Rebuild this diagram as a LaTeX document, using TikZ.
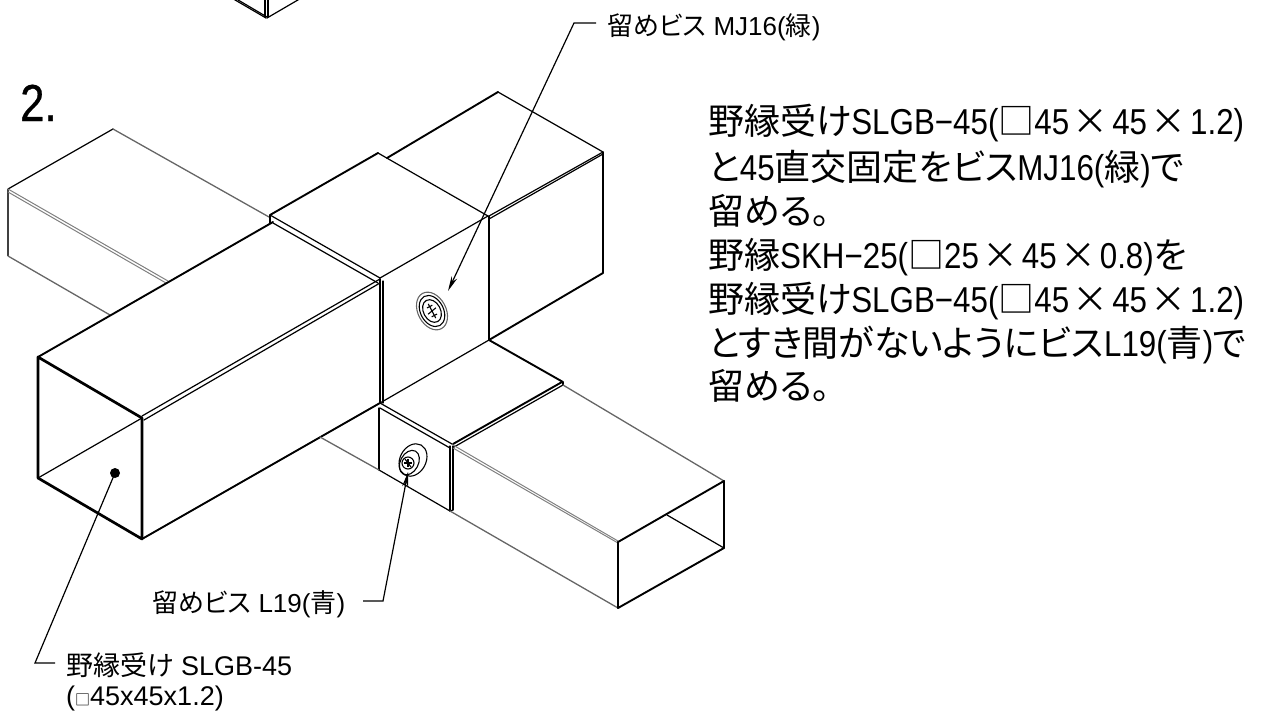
\documentclass[tikz,border=0pt]{standalone}
\usepackage{fontspec}
\setmainfont{Liberation Sans}
\newfontfamily\jp[RawFeature=+palt]{Noto Sans CJK JP}
\newfontfamily\narrowlat[FakeStretch=0.87]{Liberation Sans}
\newfontfamily\stepfont[FakeStretch=0.84,FakeBold=0.6]{Liberation Sans}
\usetikzlibrary{arrows.meta}
\newcommand{\J}[1]{{\jp #1}}
\newcommand{\X}{\hspace{3.5pt}{\jp ×}\hspace{3.5pt}}
\tikzset{
  thinl/.style={draw=black,line width=1.2pt,line cap=round,line join=round},
  midl/.style={draw=black,line width=1.9pt,line cap=round,line join=round},
  thickl/.style={draw=black,line width=2.7pt,line cap=round,line join=round},
  grayl/.style={draw=black!60,line width=1.3pt,line cap=round},
  lgrayl/.style={draw=black!50,line width=1pt,line cap=round},
  leader/.style={draw=black,line width=1.2pt,line join=miter},
  tipl/.style={leader,-{Stealth[length=15pt,width=6pt]}},
  small/.style={inner sep=0pt,anchor=base west,font=\fontsize{26}{28}\selectfont,text=black},
  smallb/.style={inner sep=0pt,anchor=base west,font=\fontsize{27}{28}\selectfont,text=black},
  big/.style={inner sep=0pt,anchor=base west,font=\narrowlat\fontsize{36}{40}\selectfont,text=black},
  screwl/.style={draw=black,line width=1.1pt,fill=none}
}
\begin{document}
\begin{tikzpicture}[x=1pt,y=-1pt]
\useasboundingbox (0,0) rectangle (1267,713);
% top fragment
\draw[thinl] (233,-3) -- (267,17);
\draw[thinl] (230,-3) -- (266,18);
\draw[thinl] (265,-3) -- (265,17);
\draw[thinl] (268,-3) -- (268,17);
\draw[thinl] (267,18) -- (303,-3);
% left stub
\draw[thinl] (8,189) -- (113,129);
\draw[grayl] (113,129) -- (269,217);
\draw[draw=black!75,line width=1.2pt] (8,189) -- (8,256);
\draw[grayl] (8,256) -- (110,315);
\draw[lgrayl] (8,189) -- (168,281);
\draw[lgrayl] (8,192) -- (166,283);
% back box
\draw[midl] (387,158) -- (498,92);
\draw[thinl] (498,92) -- (603,152);
\draw[thinl] (603,152) -- (603,273);
\draw[thinl] (489,216) -- (603,152);
\draw[thinl] (489,219) -- (603,154);
\draw[midl] (489,340) -- (603,273);
% upper collar
\draw[midl] (270,215) -- (378,153);
\draw[thinl] (378,153) -- (488,216);
\draw[thinl] (488,216) -- (380,278);
\draw[thinl] (270,215) -- (380,278);
\draw[thinl] (273,223) -- (378,283);
\draw[thinl] (270,215) -- (270,223);
\draw[thinl] (489,216) -- (489,340);
% main box
\draw[midl] (38,357) -- (273,222);
\draw[thinl] (142,416) -- (380,279);
\draw[thinl] (144,420) -- (380,283);
\draw[midl] (142,539) -- (380,403);
\draw[thinl] (380,279) -- (380,403);
\draw[thinl] (383,281) -- (383,403);
% main front
\draw[thickl] (38,357) -- (142,418) -- (142,539) -- (38,478) -- cycle;
\draw[thinl] (38,478) -- (142,418);
% lower collar
\draw[thinl] (380,403) -- (489,340);
\draw[thinl] (380,403) -- (452,444);
\draw[thinl] (380,408) -- (450,448);
\draw[thinl] (379,408) -- (379,470);
\draw[thinl] (379,470) -- (450,511);
\draw[thinl] (450,446) -- (450,511);
\draw[thinl] (453,446) -- (453,510);
\draw[thinl] (450,511) -- (453,510);
\draw[midl] (453,444) -- (562,382);
\draw[thinl] (454,447) -- (563,385);
\draw[midl] (489,340) -- (563,382);
\draw[thinl] (563,382) -- (563,385);
% lower beam
\draw[grayl] (320,437) -- (379,470);
\draw[grayl] (450,511) -- (618,608);
\draw[lgrayl] (453,445) -- (618,541);
\draw[lgrayl] (453,448) -- (618,543);
\draw[grayl] (563,385) -- (724,481);
% far front
\draw[midl] (618,542) -- (724,481) -- (724,548) -- (618,608) -- cycle;
\draw[thinl] (667,515) -- (724,548);
% upper screw
\begin{scope}[shift={(432,311)},rotate=-62]
\draw[draw=black!60,line width=1.1pt] (0,0) ellipse (20 and 14);
\draw[screwl] (0,0) ellipse (16.5 and 11.5);
\draw[screwl] (0,0) ellipse (12 and 8.5);
\draw[screwl] (-8,0) -- (8,0);
\draw[screwl] (-1,-5) -- (1,5);
\draw[screwl] (-5,-3) -- (-5,3);
\draw[screwl] (5,-3) -- (5,3);
\end{scope}
% lower screw
\begin{scope}[shift={(413,460)},rotate=62]
\draw[screwl] (0,0) ellipse (17 and 13);
\draw[screwl] (-4,-2) ellipse (13 and 9);
\end{scope}
\draw[screwl] (408,463) circle (6);
\draw[screwl] (404,463) -- (412,463);
\draw[screwl] (408,459) -- (408,467);
\draw[screwl] (405,459) -- (411,467);
% dot
\fill[black] (115,473) circle (5);
% labels
\node[inner sep=0pt,anchor=base west,font=\stepfont\fontsize{52}{54}\selectfont] (stepno) at (20,121) {2.};
\node[small] (mjlabel) at (607,35) {\J{留めビス} MJ16(\J{緑})};
\node[small] (llabel) at (152,612) {\J{留めビス} L19(\J{青})};
\node[smallb] (slabel) at (66,675) {\J{野縁受け} SLGB-45};
\node[smallb] (slabeltwo) at (66,705) {({\jp\fontsize{15}{15}\selectfont □}45x45x1.2)};
\node[big] (lone) at (708,134) {\J{野縁受け}SLGB−45(\J{□}45\X45\X1.2)};
\node[big] (ltwo) at (708,180) {\J{と}45\J{直交固定をビス}MJ16(\J{緑})\J{で}};
\node[big] (lthree) at (708,224) {\J{留める。}};
\node[big] (lfour) at (708,268) {\J{野縁}SKH−25(\J{□}25\X45\X0.8)\J{を}};
\node[big] (lfive) at (708,312) {\J{野縁受け}SLGB−45(\J{□}45\X45\X1.2)};
\node[big] (lsix) at (708,356) {\J{とすき間がないようにビス}L19(\J{青})\J{で}};
\node[big] (lseven) at (708,399) {\J{留める。}};
% leaders
\coordinate (mjend) at (596,23);
\coordinate (mjelbow) at (574,23);
\coordinate (mjtip) at (448,291);
\coordinate (lend) at (363,601);
\coordinate (lelbow) at (383,601);
\coordinate (ltip) at (408,472);
\coordinate (send) at (55,663);
\coordinate (selbow) at (35,663);
\coordinate (sdot) at (115,473);
\draw[tipl] (mjend) -- (mjelbow) -- (mjtip);
\draw[tipl] (lend) -- (lelbow) -- (ltip);
\draw[leader] (send) -- (selbow) -- (sdot);
\end{tikzpicture}
\end{document}
